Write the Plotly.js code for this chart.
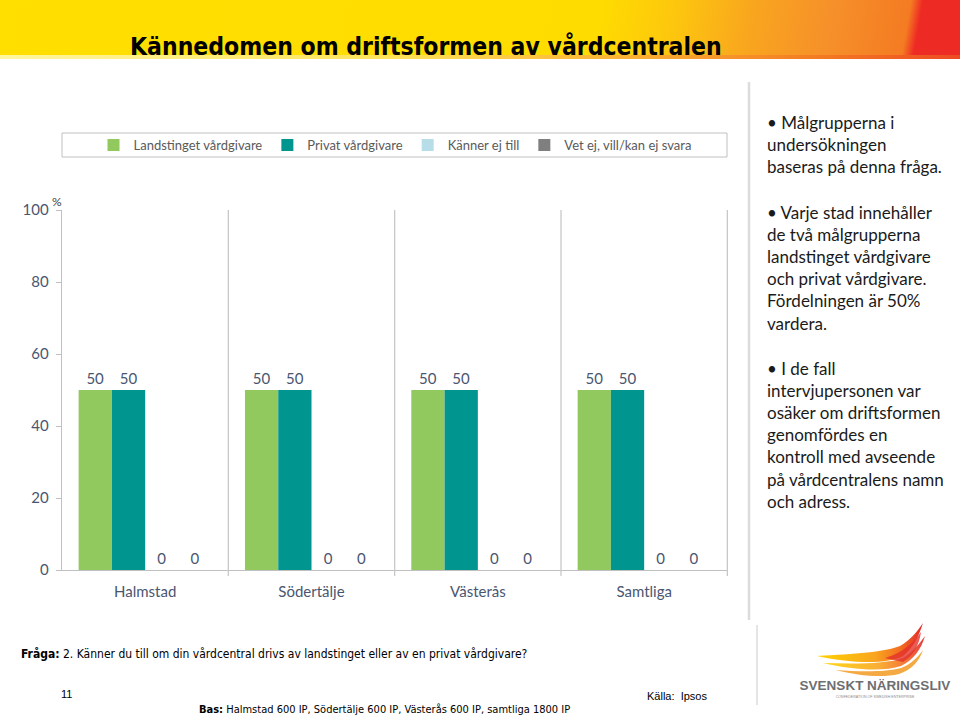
<!DOCTYPE html>
<html>
<head>
<meta charset="utf-8">
<script src="https://cdn.plot.ly/plotly-3.0.1.min.js"></script>
<style>
  html, body { margin:0; padding:0; background:#ffffff; }
  #wrap { position:relative; width:960px; height:717px; overflow:hidden; }
  #band { position:absolute; left:0; top:0; width:960px; height:55px;
    background: linear-gradient(100deg, #ffdf00 0%, #ffdc00 62%, #fdc60e 70%, #f9a51f 78%, #f6902a 86%, #f47b22 94%, #ee2a24 95.2%, #ee2a24 100%); }
  #band2 { position:absolute; left:0; top:55px; width:960px; height:4px;
    background: linear-gradient(90deg, #fff6a0 0%, #ffe45a 40%, #f9b233 65%, #f47b22 85%, #ee4a24 100%); }
  #chart { position:absolute; left:0; top:0; width:960px; height:717px; }
  #logo { position:absolute; left:795px; top:618px; width:160px; height:90px; }
</style>
</head>
<body>
<div id="wrap">
  <div id="band"></div>
  <div id="band2"></div>
  <div id="chart"></div>
  <svg id="logo" viewBox="0 0 160 90" xmlns="http://www.w3.org/2000/svg">
    <defs>
      <linearGradient id="wg" x1="0" y1="0" x2="1" y2="0">
        <stop offset="0" stop-color="#ffd200"/>
        <stop offset="0.55" stop-color="#f9a51f"/>
        <stop offset="0.8" stop-color="#f26a22"/>
        <stop offset="1" stop-color="#e3262b"/>
      </linearGradient>
    </defs>
    <path d="M22 38 C60 36 90 34 105 28 C115 22 122 14 128 5 C124 18 118 30 108 38 C92 46 60 46 22 38 Z" fill="url(#wg)"/>
    <path d="M28 45 C60 46 92 46 108 40 C118 34 124 26 130 18 C126 32 118 42 106 48 C88 54 58 52 28 45 Z" fill="url(#wg)" opacity="0.9"/>
    <path d="M40 52 C66 54 92 54 106 50 C116 46 122 40 128 32 C124 44 116 52 104 56 C88 60 64 58 40 52 Z" fill="#f39a21" opacity="0.85"/>
    <path d="M90 40 C104 36 116 28 126 14 C124 28 118 38 108 44 Z" fill="#e4322b" opacity="0.8"/>
    <text x="80" y="72" text-anchor="middle" font-family="Liberation Sans, Arial, sans-serif" font-weight="bold" font-size="13.5" fill="#6d6e71">SVENSKT NÄRINGSLIV</text>
    <text x="80" y="80" text-anchor="middle" font-family="Liberation Sans, Arial, sans-serif" font-size="3.6" fill="#8a8a8a">CONFEDERATION OF SWEDISH ENTERPRISE</text>
  </svg>
</div>
<script>
const categories = ["Halmstad", "Södertälje", "Västerås", "Samtliga"];
const seriesNames = ["Landstinget vårdgivare", "Privat vårdgivare", "Känner ej till", "Vet ej, vill/kan ej svara"];
const landstinget = [50, 50, 50, 50];
const privat = [50, 50, 50, 50];
const kannerEj = [0, 0, 0, 0];
const vetEj = [0, 0, 0, 0];
const seriesColors = ["#92c95f", "#00968f", "#b7dde8", "#7f7f7f"];
const yTicks = [0, 20, 40, 60, 80, 100];

const allValues = [landstinget, privat, kannerEj, vetEj];
const labelColor = "#4a5670";
const condensed = "DejaVu Sans Condensed, Liberation Sans Narrow, sans-serif";

const traces = allValues.map((vals, i) => ({
  type: "bar",
  name: seriesNames[i],
  x: categories,
  y: vals,
  marker: { color: seriesColors[i] },
  text: vals.map(v => String(v)),
  textposition: "outside",
  textfont: { family: "Lato, sans-serif", size: 15, color: labelColor },
  cliponaxis: false,
  hoverinfo: "none"
}));

// plot area: x 62..728, y 210..570
const L = 62, R = 728, T = 210, B = 570;
const px = x => (x - L) / (R - L);
const py = y => (B - y) / (B - T);

const shapes = [];
[0.5, 1.5, 2.5, 3.5].forEach(xv => {
  shapes.push({ type: "line", xref: "x", yref: "paper", x0: xv, x1: xv, y0: py(576), y1: 1,
    line: { color: "#c8c8c8", width: 1.3 } });
});
shapes.push({ type: "rect", xref: "paper", yref: "paper", x0: px(62), x1: px(727), y0: py(157), y1: py(133),
  line: { color: "#c0c0c0", width: 1 }, fillcolor: "rgba(0,0,0,0)" });
shapes.push({ type: "line", xref: "paper", yref: "paper", x0: px(749), x1: px(749), y0: py(620), y1: py(82),
  line: { color: "#dcdcdc", width: 2.5 } });
shapes.push({ type: "line", xref: "paper", yref: "paper", x0: px(757), x1: px(757), y0: py(705), y1: py(625),
  line: { color: "#dcdcdc", width: 1.5 } });

const bulletFont = { family: "Lato, sans-serif", size: 17, color: "#1a1a1a" };
const annotations = [
  { text: "%", xref: "paper", yref: "paper", x: px(57), y: py(201), xanchor: "center", yanchor: "middle", showarrow: false,
    font: { family: "Lato, sans-serif", size: 12, color: "#404040" } },
  { text: "• Målgrupperna i<br>undersökningen<br>baseras på denna fråga.", xref: "paper", yref: "paper",
    x: px(765), y: py(110), xanchor: "left", yanchor: "top", align: "left", showarrow: false, font: bulletFont },
  { text: "• Varje stad innehåller<br>de två målgrupperna<br>landstinget vårdgivare<br>och privat vårdgivare.<br>Fördelningen är 50%<br>vardera.",
    xref: "paper", yref: "paper", x: px(765), y: py(200), xanchor: "left", yanchor: "top", align: "left", showarrow: false, font: bulletFont },
  { text: "• I de fall<br>intervjupersonen var<br>osäker om driftsformen<br>genomfördes en<br>kontroll med avseende<br>på vårdcentralens namn<br>och adress.",
    xref: "paper", yref: "paper", x: px(765), y: py(356), xanchor: "left", yanchor: "top", align: "left", showarrow: false, font: bulletFont },
  { text: "<b>Fråga:</b> 2. Känner du till om din vårdcentral drivs av landstinget eller av en privat vårdgivare?",
    xref: "paper", yref: "paper", x: px(19), y: py(654), xanchor: "left", yanchor: "middle", showarrow: false,
    font: { family: condensed, size: 12, color: "#000000" } },
  { text: "11", xref: "paper", yref: "paper", x: px(59), y: py(694), xanchor: "left", yanchor: "middle", showarrow: false,
    font: { family: "Liberation Sans, Arial, sans-serif", size: 11, color: "#000000" } },
  { text: "<b>Bas:</b> Halmstad 600 IP, Södertälje 600 IP, Västerås 600 IP, samtliga 1800 IP",
    xref: "paper", yref: "paper", x: px(197), y: py(709), xanchor: "left", yanchor: "middle", showarrow: false,
    font: { family: condensed, size: 11, color: "#000000" } },
  { text: "Källa:  Ipsos", xref: "paper", yref: "paper", x: px(645), y: py(696), xanchor: "left", yanchor: "middle", showarrow: false,
    font: { family: "Liberation Sans, Arial, sans-serif", size: 11, color: "#000000" } }
];

const layout = {
  width: 960, height: 717,
  margin: { l: L, r: 960 - R, t: T, b: 717 - B, pad: 0 },
  paper_bgcolor: "rgba(0,0,0,0)",
  plot_bgcolor: "rgba(0,0,0,0)",
  title: { text: "<b>Kännedomen om driftsformen av vårdcentralen</b>", xref: "container", yref: "container",
    x: 130 / 960, xanchor: "left", y: 1 - 46 / 717, yanchor: "middle",
    font: { family: condensed, size: 24.5, color: "#000000" } },
  barmode: "group",
  bargap: 0.2,
  bargroupgap: 0,
  showlegend: true,
  legend: { orientation: "h", xref: "paper", yref: "paper", x: 0.5, xanchor: "center", y: py(145), yanchor: "middle",
    font: { family: "Lato, sans-serif", size: 13, color: "#5a5a5a" }, bgcolor: "rgba(0,0,0,0)", borderwidth: 0,
    traceorder: "normal", itemclick: false },
  xaxis: {
    type: "category", showgrid: false, zeroline: false, showline: true, linecolor: "#c0c0c0", linewidth: 1.3,
    ticks: "", tickfont: { family: "Lato, sans-serif", size: 15, color: labelColor }, ticklabelstandoff: 8,
    fixedrange: true
  },
  yaxis: {
    range: [0, 100], tickvals: yTicks, ticktext: yTicks.map(String), showgrid: false, zeroline: false,
    showline: true, linecolor: "#c0c0c0", linewidth: 1.3, ticks: "outside", ticklen: 5, tickcolor: "#c0c0c0",
    tickfont: { family: "Lato, sans-serif", size: 15, color: labelColor }, ticklabelstandoff: 4, fixedrange: true
  },
  shapes: shapes,
  annotations: annotations
};

Plotly.newPlot("chart", traces, layout, { displayModeBar: false, staticPlot: true });
</script>
</body>
</html>
